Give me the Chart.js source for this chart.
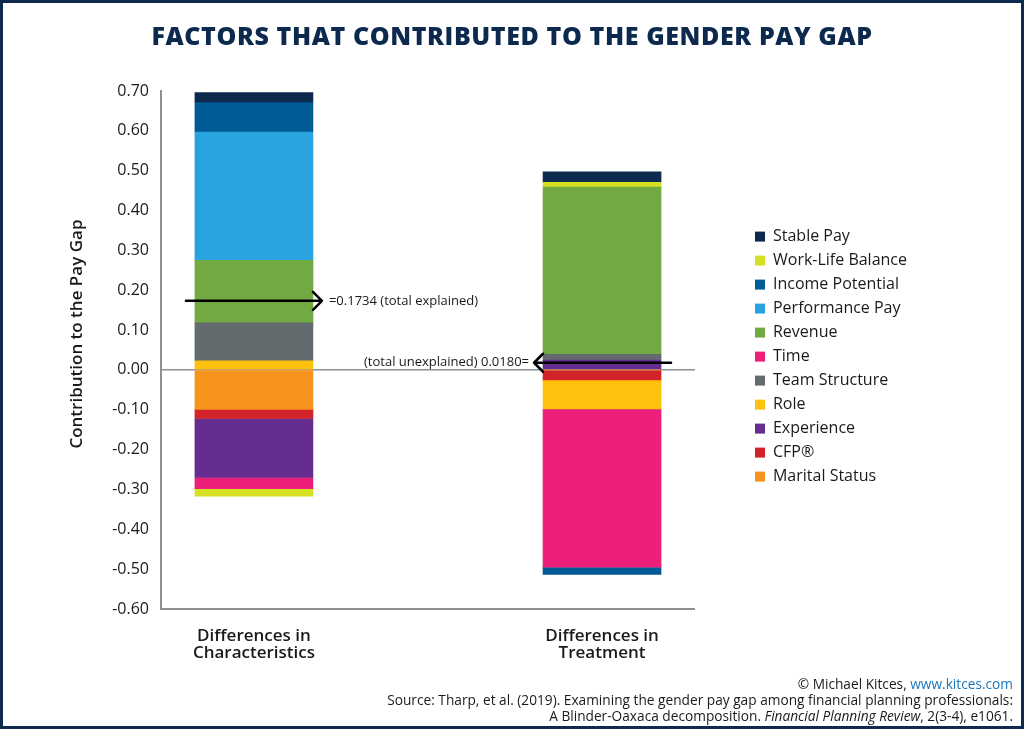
<!DOCTYPE html>
<html>
<head>
<meta charset="utf-8">
<script src="https://cdn.jsdelivr.net/npm/chart.js@4"></script>
<style>
  html, body { margin: 0; padding: 0; background: #fff; }
  #wrap { position: relative; width: 1024px; height: 729px; overflow: hidden; font-family: "Open Sans", sans-serif; }
  #frame { position: absolute; left: 0; top: 0; width: 1024px; height: 729px; box-sizing: border-box; border: 3px solid #0d2a4e; pointer-events: none; }
  #chart1 { position: absolute; left: 0; top: 0; }
  #title { position: absolute; left: 0; width: 1024px; top: 18px; text-align: center; font-size: 25px; font-weight: 800; color: #0d2a4e; letter-spacing: 0.6px; }
  #footer { position: absolute; right: 11px; top: 676px; text-align: right; font-size: 13.7px; line-height: 16px; color: #1a1a1a; }
  #footer a { color: #1a75bb; text-decoration: none; }
</style>
</head>
<body>
<div id="wrap">
  <canvas id="chart1" width="1024" height="729"></canvas>
  <div id="title">FACTORS THAT CONTRIBUTED TO THE GENDER PAY GAP</div>
  <div id="footer">
    © Michael Kitces, <a>www.kitces.com</a><br>
    Source: Tharp, et al. (2019). Examining the gender pay gap among financial planning professionals:<br>
    A Blinder-Oaxaca decomposition. <i>Financial Planning Review</i>, 2(3-4), e1061.
  </div>
  <div id="frame"></div>
</div>
<script>
const ctx = document.getElementById("chart1").getContext("2d")

// categories (two stacked bars)
const categories = [["Differences in", "Characteristics"], ["Differences in", "Treatment"]]

// contributions, [characteristics, treatment]
const maritalStatus   = [-0.099, 0]
const cfp             = [-0.023, -0.025]
const experience      = [-0.148, 0.025]
const role            = [0.023, -0.073]
const teamStructure   = [0.095, 0.014]
const time            = [-0.028, -0.397]
const revenue         = [0.157, 0.420]
const performancePay  = [0.322, 0]
const incomePotential = [0.074, -0.018]
const workLifeBalance = [-0.019, 0.012]
const stablePay       = [0.025, 0.026]

// annotations
const totalExplained = 0.1734
const totalUnexplained = 0.0180
const yTitle = "Contribution to the Pay Gap"

const series = [
    { label: "Marital Status", data: maritalStatus, color: "#f7941d" },
    { label: "CFP®", data: cfp, color: "#d2232a" },
    { label: "Experience", data: experience, color: "#662d91" },
    { label: "Role", data: role, color: "#fec20e" },
    { label: "Team Structure", data: teamStructure, color: "#636b6f" },
    { label: "Time", data: time, color: "#ec1f7a" },
    { label: "Revenue", data: revenue, color: "#72a942" },
    { label: "Performance Pay", data: performancePay, color: "#29a3de" },
    { label: "Income Potential", data: incomePotential, color: "#005a96" },
    { label: "Work-Life Balance", data: workLifeBalance, color: "#d7df23" },
    { label: "Stable Pay", data: stablePay, color: "#0d2a4e" }
]

const axisGrey = "#8c9196"
const textColor = "#1a1a1a"

// arrow + text drawn next to the bars
function drawArrow(c, x1, x2, y) {
    const dir = x2 > x1 ? 1 : -1
    c.beginPath()
    c.moveTo(x1, y)
    c.lineTo(x2, y)
    c.moveTo(x2 - dir * 9, y - 9)
    c.lineTo(x2, y)
    c.lineTo(x2 - dir * 9, y + 9)
    c.stroke()
}

const annotations = {
    id: "annotations",
    afterDatasetsDraw(chart) {
        const c = chart.ctx
        const yS = chart.scales.y
        const bar0 = chart.getDatasetMeta(0).data[0]
        const bar1 = chart.getDatasetMeta(0).data[1]
        const w = bar0.width
        c.save()
        c.strokeStyle = "#000"
        c.lineWidth = 2.5
        c.lineCap = "round"
        c.lineJoin = "round"
        c.fillStyle = textColor
        c.font = "13px 'Open Sans'"
        c.textBaseline = "middle"

        // total explained
        let y = yS.getPixelForValue(totalExplained)
        let right = bar0.x + w / 2 + 9
        drawArrow(c, bar0.x - w / 2 - 9, right, y)
        c.textAlign = "left"
        c.fillText("=" + totalExplained.toFixed(4) + " (total explained)", right + 7, y)

        // total unexplained
        y = yS.getPixelForValue(totalUnexplained)
        let left = bar1.x - w / 2 - 9
        drawArrow(c, bar1.x + w / 2 + 10, left, y)
        c.textAlign = "right"
        c.fillText("(total unexplained) " + totalUnexplained.toFixed(4) + "=", left - 5, y)

        // y axis title, sits a bit above the middle of the axis
        c.translate(yS.left + 17, yS.getPixelForValue(0.09))
        c.rotate(-Math.PI / 2)
        c.textAlign = "center"
        c.font = "600 17px 'Open Sans'"
        c.fillText(yTitle, 0, 0)
        c.restore()
    }
}

function makeChart() {
    return new Chart(ctx, {
        type: "bar",
        data: {
            datasets: series.map(s => ({
                label: s.label,
                data: s.data.map((v, i) => ({ x: i + 1, y: v })),
                backgroundColor: s.color,
                borderWidth: 0,
                barThickness: 118,
                xAxisID: "x",
                yAxisID: "y"
            }))
        },
        options: {
            responsive: false,
            animation: false,
            layout: { padding: { left: 60, top: 91, right: 107, bottom: 60 } },
            scales: {
                y: {
                    stacked: true,
                    min: -0.6,
                    max: 0.7,
                    afterFit(s) { s.width = 101 },
                    ticks: {
                        stepSize: 0.1,
                        padding: 12,
                        color: textColor,
                        font: { family: "Open Sans", size: 16 },
                        callback: v => v.toFixed(2)
                    },
                    grid: {
                        drawTicks: false,
                        lineWidth: 1.5,
                        color: c => (Math.abs(c.tick.value) < 1e-9 ? axisGrey : "transparent")
                    },
                    border: { display: true, color: axisGrey, width: 2 }
                },
                gap: {
                    type: "linear",
                    position: "right",
                    display: true,
                    afterFit(s) { s.width = 52 },
                    ticks: { display: false },
                    grid: { display: false },
                    border: { display: false }
                },
                x: {
                    type: "linear",
                    stacked: true,
                    offset: false,
                    min: 0.733,
                    max: 2.267,
                    afterFit(s) { s.height = 60 },
                    afterBuildTicks(s) { s.ticks = categories.map((_, i) => ({ value: i + 1 })) },
                    ticks: {
                        padding: 10,
                        autoSkip: false,
                        maxRotation: 0,
                        color: textColor,
                        font: { family: "Open Sans", size: 17, weight: "600", lineHeight: 1.02 },
                        callback: v => categories[v - 1] || ""
                    },
                    grid: { display: false },
                    border: { display: true, color: axisGrey, width: 2 }
                }
            },
            plugins: {
                legend: {
                    position: "right",
                    fullSize: false,
                    maxWidth: 300,
                    reverse: true,
                    title: { display: true, text: " ", padding: 0, font: { size: 11 } },
                    labels: {
                        boxWidth: 10,
                        boxHeight: 10,
                        padding: 8,
                        color: textColor,
                        font: { family: "Open Sans", size: 16 }
                    }
                },
                tooltip: { enabled: false }
            }
        },
        plugins: [annotations]
    })
}

// wait for the fonts so the legend gets measured with the right widths
Promise.all([
    document.fonts.load("16px 'Open Sans'"),
    document.fonts.load("600 17px 'Open Sans'"),
    document.fonts.load("800 25px 'Open Sans'")
]).then(makeChart, makeChart)
</script>
</body>
</html>
